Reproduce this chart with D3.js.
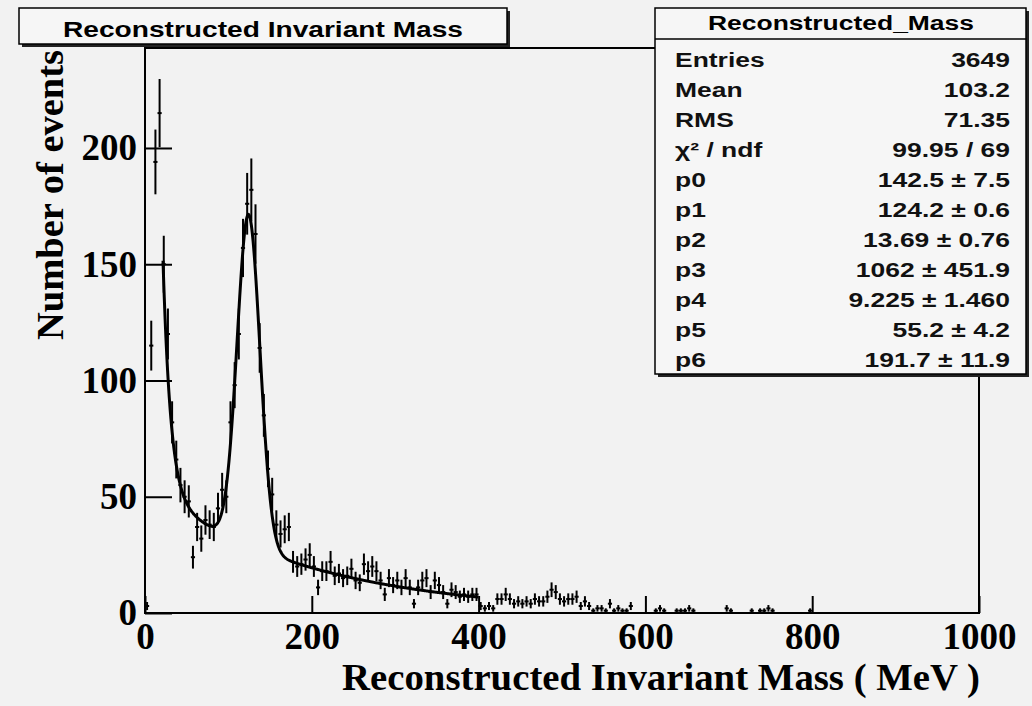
<!DOCTYPE html>
<html>
<head>
<meta charset="utf-8">
<script src="https://cdn.jsdelivr.net/npm/d3@7"></script>
<style>
  body { margin: 0; background: #f2f2f2; }
  svg { display: block; }
</style>
</head>
<body>
<svg id="svg" width="1032" height="706"></svg>
<script>
// histogram: 200 bins of 5 MeV, 0..1000
var binWidth = 5;
var binCounts = [
  3, 115, 194, 215, 150, 120, 82, 66, 55, 50,
  48, 24, 37, 32, 40, 38, 37, 45, 53, 50,
  82, 98, 120, 157, 176, 182, 163, 114, 85, 62,
  51, 38, 34, 36, 37, 22, 20, 21, 23, 25,
  20, 11, 18, 18, 22, 16, 17, 15, 16, 19,
  14, 13, 21, 18, 20, 18, 14, 8, 15, 12,
  14, 11, 15, 11, 4, 11, 14, 15, 9, 14,
  12, 9, 4, 10, 9, 7, 8, 7, 8, 8,
  3, 2, 3, 2, 6, 6, 8, 6, 4, 5,
  4, 5, 4, 6, 5, 5, 7, 10, 9, 6,
  5, 6, 6, 7, 3, 5, 3, 1, 2, 2,
  1, 4, 1, 2, 1, 1, 3, 0, 0, 0,
  0, 0, 1, 2, 1, 0, 0, 1, 1, 1,
  2, 1, 0, 0, 0, 0, 0, 0, 0, 2,
  1, 0, 0, 0, 0, 1, 0, 1, 1, 2,
  1, 0, 0, 0, 0, 0, 0, 0, 0, 1,
  0, 0, 0, 0, 0, 0, 0, 0, 0, 0,
  0, 0, 0, 0, 0, 0, 0, 0, 0, 0,
  0, 0, 0, 0, 0, 0, 0, 0, 0, 0,
  0, 0, 0, 0, 0, 0, 0, 0, 0, 0
];

// fit: gaus(p0,p1,p2) + expo(p3,p4) + expo(p5,p6)
var fitParams = [142.5, 124.2, 13.69, 1062, 9.225, 55.2, 191.7];
var fitRange = [21.6, 400];

var xTicks = [0, 200, 400, 600, 800, 1000];
var xMinorTicks = d3.range(0, 1001, 50);
var yTicks = [0, 50, 100, 150, 200];
var yMinorTicks = d3.range(0, 241, 10);

var statLabels = ['Entries', 'Mean', 'RMS', '\u03c7\u00b2 / ndf', 'p0', 'p1', 'p2', 'p3', 'p4', 'p5', 'p6'];
var statValues = ['3649', '103.2', '71.35', '99.95 / 69', '142.5 \u00b1 7.5', '124.2 \u00b1 0.6',
  '13.69 \u00b1 0.76', '1062 \u00b1 451.9', '9.225 \u00b1 1.460', '55.2 \u00b1 4.2', '191.7 \u00b1 11.9'];

var serif = '"Liberation Serif", "DejaVu Serif", serif';
var sans = '"Liberation Sans", Arial, sans-serif';

var svg = d3.select('#svg');
var x = d3.scaleLinear().domain([0, 1000]).range([145, 979]);
var y = d3.scaleLinear().domain([0, 243]).range([613, 48]);

DrawFrame();
DrawHistogram();
DrawFit();
DrawAxes();
DrawTitle();
DrawStats();

function DrawFrame() {
  svg.append('rect')
    .attr('x', 0).attr('y', 0).attr('width', 1032).attr('height', 706)
    .attr('fill', '#f2f2f2');
  svg.append('rect')
    .attr('x', x(0)).attr('y', y(243))
    .attr('width', x(1000) - x(0)).attr('height', y(0) - y(243))
    .attr('fill', '#f2f2f2')
    .attr('stroke', '#000')
    .attr('stroke-width', 2);
}

function DrawHistogram() {
  var bins = binCounts.map(function (c, i) {
    return { lo: i * binWidth, hi: (i + 1) * binWidth, n: c };
  }).filter(function (d) { return d.n > 0; });

  var g = svg.append('g').attr('stroke', '#000').attr('stroke-width', 2);
  var b = g.selectAll('g.bin').data(bins).enter().append('g').attr('class', 'bin');
  b.append('line')
    .attr('x1', function (d) { return x(d.lo); })
    .attr('x2', function (d) { return x(d.hi); })
    .attr('y1', function (d) { return y(d.n); })
    .attr('y2', function (d) { return y(d.n); });
  b.append('line')
    .attr('x1', function (d) { return x((d.lo + d.hi) / 2); })
    .attr('x2', function (d) { return x((d.lo + d.hi) / 2); })
    .attr('y1', function (d) { return y(Math.max(0, d.n - Math.sqrt(d.n))); })
    .attr('y2', function (d) { return y(d.n + Math.sqrt(d.n)); });
}

function FitValue(m) {
  var p = fitParams;
  return p[0] * Math.exp(-0.5 * Math.pow((m - p[1]) / p[2], 2)) +
    p[3] * Math.exp(-m / p[4]) + p[5] * Math.exp(-m / p[6]);
}

function DrawFit() {
  var pts = d3.range(fitRange[0], fitRange[1] + 0.01, 0.5);
  var line = d3.line()
    .x(function (m) { return x(m); })
    .y(function (m) { return y(FitValue(m)); });
  svg.append('path')
    .datum(pts)
    .attr('d', line)
    .attr('fill', 'none')
    .attr('stroke', '#000')
    .attr('stroke-width', 3);
}

function DrawAxes() {
  var gx = svg.append('g').attr('transform', 'translate(0,' + y(0) + ')');
  gx.call(d3.axisBottom(x).tickValues(xMinorTicks).tickSize(-9).tickFormat(''));
  gx.call(d3.axisBottom(x).tickValues(xTicks).tickSize(-17).tickPadding(10).tickFormat(d3.format('d')));
  gx.selectAll('.domain').remove();

  var gy = svg.append('g').attr('transform', 'translate(' + x(0) + ',0)');
  gy.call(d3.axisLeft(y).tickValues(yMinorTicks).tickSize(-14).tickFormat(''));
  gy.call(d3.axisLeft(y).tickValues(yTicks).tickSize(-27).tickPadding(8).tickFormat(d3.format('d')));
  gy.selectAll('.domain').remove();

  svg.selectAll('.tick line').attr('stroke', '#000').attr('stroke-width', 2);
  svg.selectAll('.tick text')
    .attr('font-family', serif)
    .attr('font-weight', 'bold')
    .attr('font-size', 37)
    .attr('fill', '#000');

  svg.append('text')
    .attr('x', 980).attr('y', 690)
    .attr('text-anchor', 'end')
    .attr('font-family', serif).attr('font-weight', 'bold').attr('font-size', 37)
    .attr('textLength', 638).attr('lengthAdjust', 'spacingAndGlyphs')
    .text('Reconstructed Invariant Mass ( MeV )');

  svg.append('text')
    .attr('transform', 'translate(63,50) rotate(-90)')
    .attr('text-anchor', 'end')
    .attr('font-family', serif).attr('font-weight', 'bold').attr('font-size', 38)
    .attr('textLength', 290).attr('lengthAdjust', 'spacingAndGlyphs')
    .text('Number of events');
}

function DrawBox(x0, y0, w, h) {
  svg.append('rect')
    .attr('x', x0 + 3).attr('y', y0 + 3).attr('width', w).attr('height', h)
    .attr('fill', '#222');
  svg.append('rect')
    .attr('x', x0).attr('y', y0).attr('width', w).attr('height', h)
    .attr('fill', '#f6f6f6').attr('stroke', '#000').attr('stroke-width', 1.5);
}

function DrawTitle() {
  DrawBox(19, 8, 488, 36);
  svg.append('text')
    .attr('x', 263).attr('y', 37)
    .attr('text-anchor', 'middle')
    .attr('font-family', sans).attr('font-weight', 'bold').attr('font-size', 22)
    .attr('textLength', 400).attr('lengthAdjust', 'spacingAndGlyphs')
    .text('Reconstructed Invariant Mass');
}

function DrawStats() {
  DrawBox(655, 8, 371, 366);
  svg.append('line')
    .attr('x1', 655).attr('x2', 1026).attr('y1', 39).attr('y2', 39)
    .attr('stroke', '#000').attr('stroke-width', 1.5);
  svg.append('text')
    .attr('x', 841).attr('y', 30)
    .attr('text-anchor', 'middle')
    .attr('font-family', sans).attr('font-weight', 'bold').attr('font-size', 20)
    .attr('textLength', 266).attr('lengthAdjust', 'spacingAndGlyphs')
    .text('Reconstructed_Mass');

  var rows = svg.append('g')
    .attr('font-family', sans).attr('font-weight', 'bold').attr('font-size', 21)
    .attr('fill', '#111');
  statLabels.forEach(function (lab, i) {
    var base = 67 + i * 30;
    rows.append('text')
      .attr('transform', 'translate(675,' + base + ') scale(1.26,1)')
      .text(lab);
    rows.append('text')
      .attr('transform', 'translate(1010,' + base + ') scale(1.26,1)')
      .attr('text-anchor', 'end')
      .text(statValues[i]);
  });
}
</script>
</body>
</html>
